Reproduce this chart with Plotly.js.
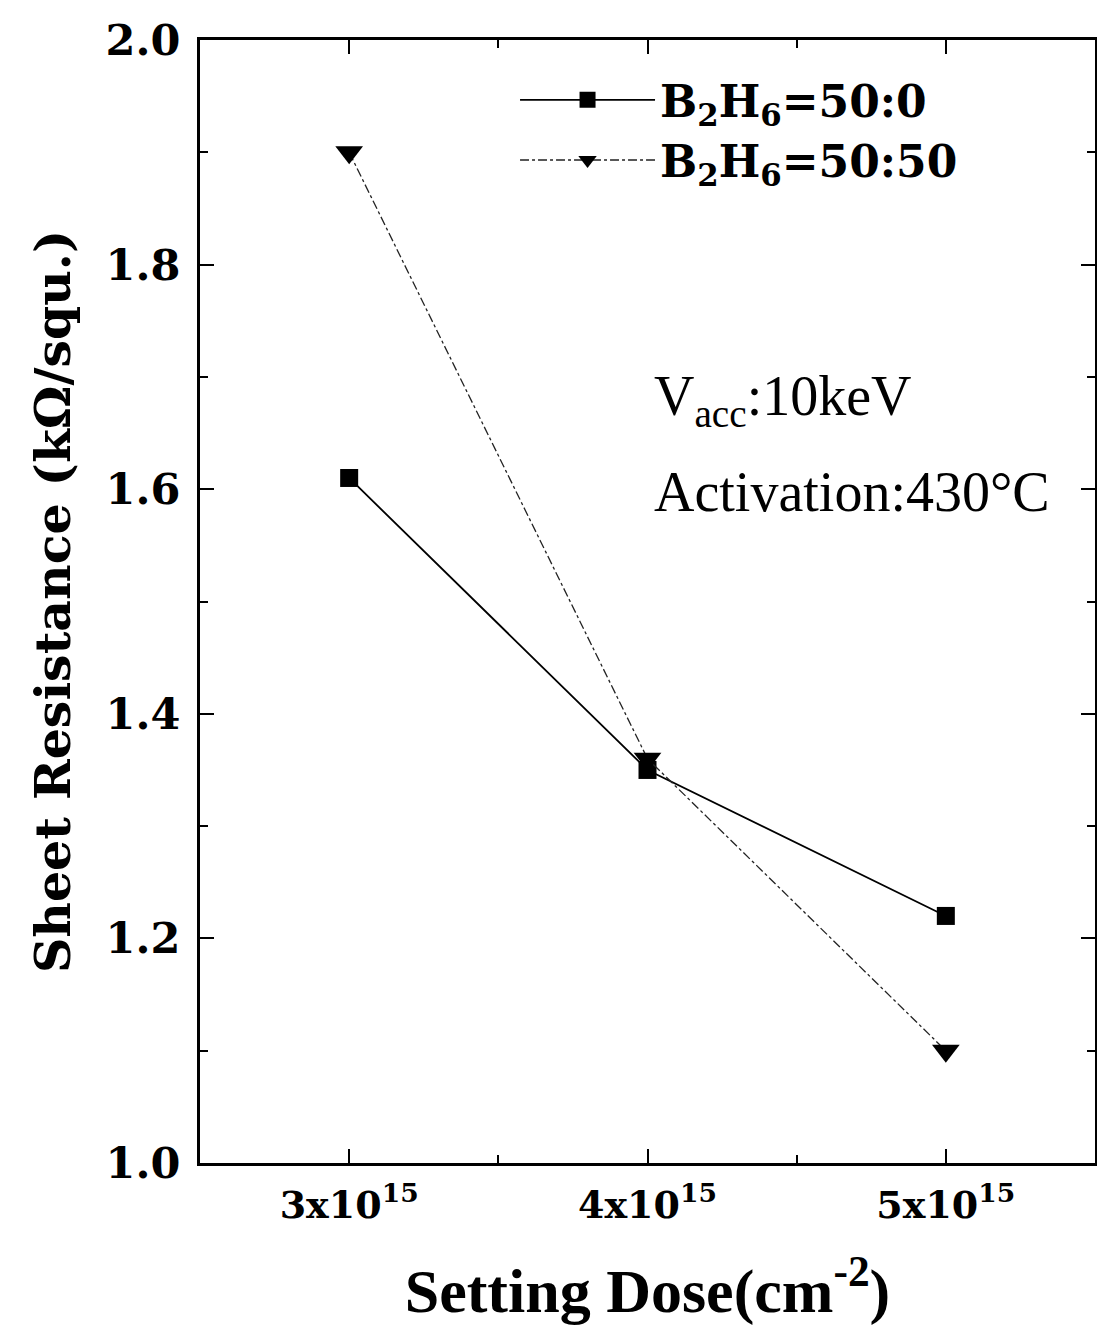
<!DOCTYPE html>
<html>
<head>
<meta charset="utf-8">
<script src="https://cdn.plot.ly/plotly-3.0.1.min.js"></script>
<style>html,body{margin:0;padding:0;background:#fff;}#chart{width:1097px;height:1339px;}</style>
</head>
<body>
<div id="chart"></div>
<script>
const doses = [3, 4, 5];
const doseTickLabels = ['3x10<sup>15</sup>', '4x10<sup>15</sup>', '5x10<sup>15</sup>'];
const ratio50_0 = [1.61, 1.35, 1.22];
const ratio50_50 = [1.90, 1.36, 1.10];
const seriesNames = ['B<sub>2</sub>H<sub>6</sub>=50:0', 'B<sub>2</sub>H<sub>6</sub>=50:50'];
const yTicks = [1.0, 1.2, 1.4, 1.6, 1.8, 2.0];

const traces = [
  {
    x: doses, y: ratio50_0, name: seriesNames[0], mode: 'lines+markers',
    line: {color: '#000', width: 1.8, dash: 'solid'},
    marker: {symbol: 'square', size: 18, color: '#000'}
  },
  {
    x: doses, y: ratio50_50, name: seriesNames[1], mode: 'lines+markers',
    line: {color: '#222', width: 1.3, dash: 'dashdot'},
    marker: {symbol: 'triangle-down', size: 24, color: '#000'}
  }
];

const layout = {
  width: 1097, height: 1339,
  margin: {l: 200, r: 2, t: 40, b: 176},
  paper_bgcolor: '#fff', plot_bgcolor: '#fff',
  showlegend: true,
  legend: {
    x: 0.352, y: 0.978, xanchor: 'left', yanchor: 'top',
    bgcolor: 'rgba(0,0,0,0)', borderwidth: 0,
    font: {family: 'DejaVu Serif', size: 44, color: '#000', weight: 'bold'},
    itemwidth: 135, tracegroupgap: 0
  },
  xaxis: {
    range: [2.5, 5.5], tickvals: doses, ticktext: doseTickLabels,
    ticks: 'inside', ticklen: 14, tickwidth: 2, tickcolor: '#000',
    showline: true, linecolor: '#000', linewidth: 3, mirror: 'ticks',
    showgrid: false, zeroline: false,
    minor: {dtick: 0.5, tick0: 2.5, ticks: 'inside', ticklen: 8, tickwidth: 2, tickcolor: '#000', showgrid: false},
    tickfont: {family: 'DejaVu Serif', size: 38, color: '#000', weight: 'bold'},
    ticklabelstandoff: 6,
    title: {text: 'Setting Dose(cm<sup>-2</sup>)', font: {family: 'Liberation Serif', size: 62, color: '#000', weight: 'bold'}, standoff: 44}
  },
  yaxis: {
    range: [1.0, 2.0], tickvals: yTicks, ticktext: yTicks.map(v => v.toFixed(1)),
    ticks: 'inside', ticklen: 14, tickwidth: 2, tickcolor: '#000',
    showline: true, linecolor: '#000', linewidth: 3, mirror: 'ticks',
    showgrid: false, zeroline: false,
    minor: {dtick: 0.1, ticks: 'inside', ticklen: 8, tickwidth: 2, tickcolor: '#000', showgrid: false},
    tickfont: {family: 'DejaVu Serif', size: 43, color: '#000', weight: 'bold'},
    ticklabelstandoff: 8,
    title: {text: 'Sheet Resistance (kΩ/squ.)', font: {family: 'DejaVu Serif', size: 49, color: '#000', weight: 'bold'}, standoff: 20}
  },
  annotations: [
    {xref: 'paper', yref: 'paper', x: 0.505, y: 0.6794, xanchor: 'left', yanchor: 'middle', showarrow: false,
     text: 'V<sub>acc</sub>:10keV', font: {family: 'Liberation Serif', size: 56, color: '#000'}},
    {xref: 'paper', yref: 'paper', x: 0.505, y: 0.5975, xanchor: 'left', yanchor: 'middle', showarrow: false,
     text: 'Activation:430°C', font: {family: 'Liberation Serif', size: 56, color: '#000'}}
  ]
};

Plotly.newPlot('chart', traces, layout, {displayModeBar: false, staticPlot: true});
</script>
</body>
</html>
